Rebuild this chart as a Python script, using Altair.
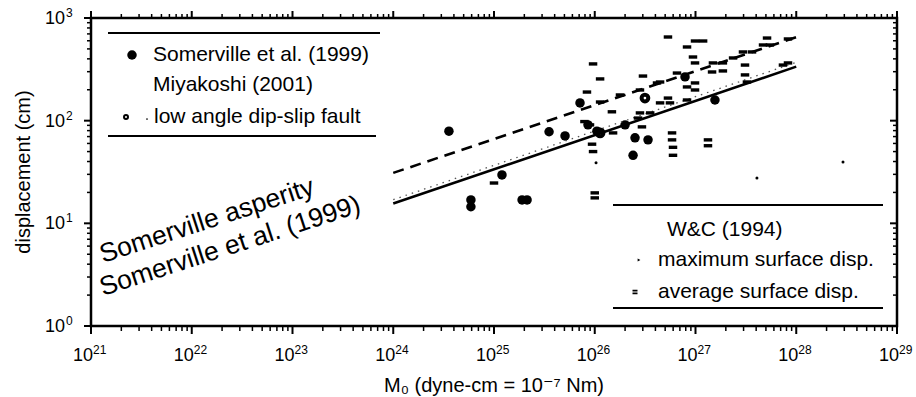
import altair as alt
import pandas as pd

FONT = "Liberation Sans, Arial, DejaVu Sans"

# ---------------- data ----------------
# Somerville et al. (1999) (filled circles)
som_m0 = [3.57e24, 5.9e24, 5.9e24, 1.2e25, 1.9e25, 2.13e25, 3.52e25, 5.07e25, 7.14e25,
          8.57e25, 1.05e26, 2.0e26, 2.51e26, 3.38e26, 2.4e26, 7.87e26, 1.56e27]
som_d = [79, 16.9, 14.5, 29.6, 16.9, 16.9, 78, 71, 149,
         91, 79, 91, 68, 65, 46, 267, 159]

# low angle dip-slip fault (open circles)
low_m0 = [3.15e26, 1.13e26]
low_d = [166, 76]

# W&C (1994) average surface displacement (dashes)
avg_m0 = [5.33e26, 8.24e26, 9.89e26, 1.19e27, 9.89e26, 1.49e27, 1.87e27, 2.36e27, 2.96e27,
          3.64e27, 4.68e27, 5.48e27, 8.28e27, 5.13e27, 3.10e27, 9.62e25, 1.13e26, 3.01e26,
          4.15e26, 4.45e26, 1.78e26, 8.37e25, 1.13e26, 2.81e26, 5.33e26, 5.58e26, 8.24e26,
          8.24e26, 9.89e26, 9.89e26, 1.46e27, 1.87e27, 3.10e27, 3.24e27, 7.38e27, 8.28e27,
          2.81e26, 2.69e26, 2.94e26, 1.52e26, 5.85e26, 5.85e26, 5.98e26, 5.98e26, 1.33e27,
          1.33e27, 9.4e25, 9.62e25, 1.0e26, 1.0e26, 1.48e26, 6.55e26, 9.44e26, 8.97e25,
          7.9e25, 3.55e26, 4.45e26, 1.0e25]
avg_d = [653, 522, 597, 597, 365, 365, 365, 408, 467,
         467, 546, 546, 625, 638, 348, 357, 255, 272,
         233, 238, 178, 190, 152, 199, 166, 149, 159,
         213, 233, 199, 298, 305, 279, 238, 348, 365,
         119, 106, 87, 76, 76, 65, 55, 46, 65,
         57, 59, 50, 19.8, 17.7, 122, 291, 417, 91,
         98, 119, 149, 24.7]

# W&C (1994) maximum surface displacement (small dots)
max_m0 = [4.07e27, 2.91e28, 1.03e26]
max_d = [27.7, 39.6, 39]

# scaling lines
line_m0 = [1e24, 1e28]
avg_line_d = [15.6, 336]      # Somerville average slip (solid)
asp_line_d = [31, 650]        # Somerville asperity (dashed)
miy_line_d = [17, 370]        # Miyakoshi (2001) (dotted)

# axis ticks and labels (base "10" + exponent)
x_tick_values = [1e21, 1e22, 1e23, 1e24, 1e25, 1e26, 1e27, 1e28, 1e29]
x_tick_exps = ["21", "22", "23", "24", "25", "26", "27", "28", "29"]
y_tick_values = [1, 10, 100, 1000]
y_tick_exps = ["0", "1", "2", "3"]
x_minor = [k * 10.0 ** e for e in range(21, 29) for k in range(2, 10)]
y_minor = [k * 10.0 ** e for e in range(0, 3) for k in range(2, 10)]

X_TITLE = "M₀ (dyne-cm = 10⁻⁷ Nm)"
Y_TITLE = "displacement (cm)"

W, H = 806, 308

xs = alt.Scale(type="log", domain=[1e21, 1e29], nice=False)
ys = alt.Scale(type="log", domain=[1, 1000], nice=False)

X = lambda f: alt.X(f, type="quantitative", scale=xs, axis=None)
Y = lambda f: alt.Y(f, type="quantitative", scale=ys, axis=None)

som = alt.Chart(pd.DataFrame({"m0": som_m0, "d": som_d})).mark_point(
    shape="circle", filled=True, color="black", size=90, opacity=1
).encode(x=X("m0"), y=Y("d"))

low = alt.Chart(pd.DataFrame({"m0": low_m0, "d": low_d})).mark_point(
    shape="circle", filled=False, color="black", strokeWidth=4, size=45, opacity=1
).encode(x=X("m0"), y=Y("d"))

BAR = "M-1,-0.4L1,-0.4L1,0.4L-1,0.4Z"
avg = alt.Chart(pd.DataFrame({"m0": avg_m0, "d": avg_d})).mark_point(
    shape=BAR, filled=True, color="black", size=72, opacity=1, strokeWidth=0
).encode(x=X("m0"), y=Y("d"))

mx = alt.Chart(pd.DataFrame({"m0": max_m0, "d": max_d})).mark_point(
    shape="circle", filled=True, color="black", size=9, opacity=1
).encode(x=X("m0"), y=Y("d"))

lines_df = pd.DataFrame({"m0": line_m0, "avg": avg_line_d, "asp": asp_line_d, "miy": miy_line_d})
solid = alt.Chart(lines_df).mark_line(color="black", strokeWidth=2.6).encode(x=X("m0"), y=Y("avg"))
dashed = alt.Chart(lines_df).mark_line(color="black", strokeWidth=2.6, strokeDash=[11, 7]).encode(x=X("m0"), y=Y("asp"))
dotted = alt.Chart(lines_df).mark_line(color="#555555", strokeWidth=1.3, strokeDash=[1.5, 5]).encode(x=X("m0"), y=Y("miy"))


# ---- frame ticks ----
def tick_layer(values, axis, a, b, width):
    df = pd.DataFrame({"v": values})
    if axis == "x":
        enc = dict(x=X("v"), y=alt.value(a), y2=alt.value(b))
    else:
        enc = dict(y=Y("v"), x=alt.value(a), x2=alt.value(b))
    return alt.Chart(df).mark_rule(color="black", strokeWidth=width).encode(**enc)


ticks = [
    tick_layer(x_tick_values, "x", H, H + 8, 2),
    tick_layer(x_minor, "x", H, H + 5, 1.5),
    tick_layer(x_tick_values, "x", 0, -7, 2),
    tick_layer(x_minor, "x", 0, -4, 1.5),
    tick_layer(y_tick_values, "y", 0, -7, 2),
    tick_layer(y_minor, "y", 0, -4, 1.5),
    tick_layer(y_tick_values, "y", W, W - 7, 2),
    tick_layer(y_minor, "y", W, W - 4, 1.5),
]

# ---- tick labels ----
xl_df = pd.DataFrame({"v": x_tick_values, "e": x_tick_exps})
yl_df = pd.DataFrame({"v": y_tick_values, "e": y_tick_exps})

x_base = alt.Chart(xl_df).mark_text(
    text="10", align="right", baseline="alphabetic", fontSize=18, font=FONT, color="black", dx=2
).encode(x=X("v"), y=alt.value(H + 35))
x_exp = alt.Chart(xl_df).mark_text(
    align="left", baseline="alphabetic", fontSize=12, font=FONT, color="black", dx=2
).encode(x=X("v"), y=alt.value(H + 28), text="e:N")

y_base = alt.Chart(yl_df).mark_text(
    text="10", align="right", baseline="alphabetic", fontSize=18, font=FONT, color="black", dy=6
).encode(y=Y("v"), x=alt.value(-26))
y_exp = alt.Chart(yl_df).mark_text(
    align="left", baseline="alphabetic", fontSize=12, font=FONT, color="black", dx=1, dy=-1
).encode(y=Y("v"), x=alt.value(-26), text="e:N")

one = pd.DataFrame({"a": [0]})


def text(t, x, y, size=21, angle=0, baseline="middle", align="left"):
    kw = dict(text=t, align=align, baseline=baseline, fontSize=size, font=FONT, color="black")
    if angle:
        kw["angle"] = angle
    return alt.Chart(one).mark_text(**kw).encode(x=alt.value(x), y=alt.value(y))


def hline(x1, x2, y):
    return alt.Chart(one).mark_rule(color="black", strokeWidth=2).encode(
        x=alt.value(x1), x2=alt.value(x2), y=alt.value(y))


def sym(x, y, shape, size, filled=True, sw=1):
    return alt.Chart(one).mark_point(shape=shape, filled=filled, size=size, color="black",
                                     opacity=1, strokeWidth=sw).encode(x=alt.value(x), y=alt.value(y))


annot = [
    text(X_TITLE, W / 2, H + 66, size=20, baseline="alphabetic", align="center"),
    text(Y_TITLE, -61, H / 2, size=20, angle=270, baseline="alphabetic", align="center"),
    hline(17, 289, 15), hline(17, 285, 118),
    sym(41, 37, "circle", 90),
    text("Somerville et al. (1999)", 62, 37),
    text("Miyakoshi (2001)", 62, 67),
    sym(35, 99, "circle", 16, filled=False, sw=2),
    sym(56, 101, "circle", 3),
    text("low angle dip-slip fault", 63, 99),
    hline(522, 792, 187), hline(522, 792, 290),
    text("W&C (1994)", 576, 212),
    sym(548, 242, "triangle-right", 10),
    text("maximum surface disp.", 567, 242),
    sym(544, 274, "M-1,-0.9L1,-0.9L1,-0.2L-1,-0.2Z M-1,0.2L1,0.2L1,0.9L-1,0.9Z", 25, sw=0),
    text("average surface disp.", 567, 274),
    text("Somerville asperity", 12, 245, size=26.5, angle=342, baseline="alphabetic"),
    text("Somerville et al. (1999)", 12, 278, size=26.5, angle=342, baseline="alphabetic"),
]

chart = alt.layer(
    som, dotted, solid, dashed, avg, mx, low, *ticks, x_base, x_exp, y_base, y_exp, *annot
).properties(
    width=W, height=H,
    autosize=alt.AutoSizeParams(type="none"),
    padding={"left": 91, "top": 18, "right": 19, "bottom": 71},
    background="white",
).configure_view(
    stroke="black", strokeWidth=2.5
)

chart.save("out.html", embed_options={"renderer": "svg", "actions": False})
